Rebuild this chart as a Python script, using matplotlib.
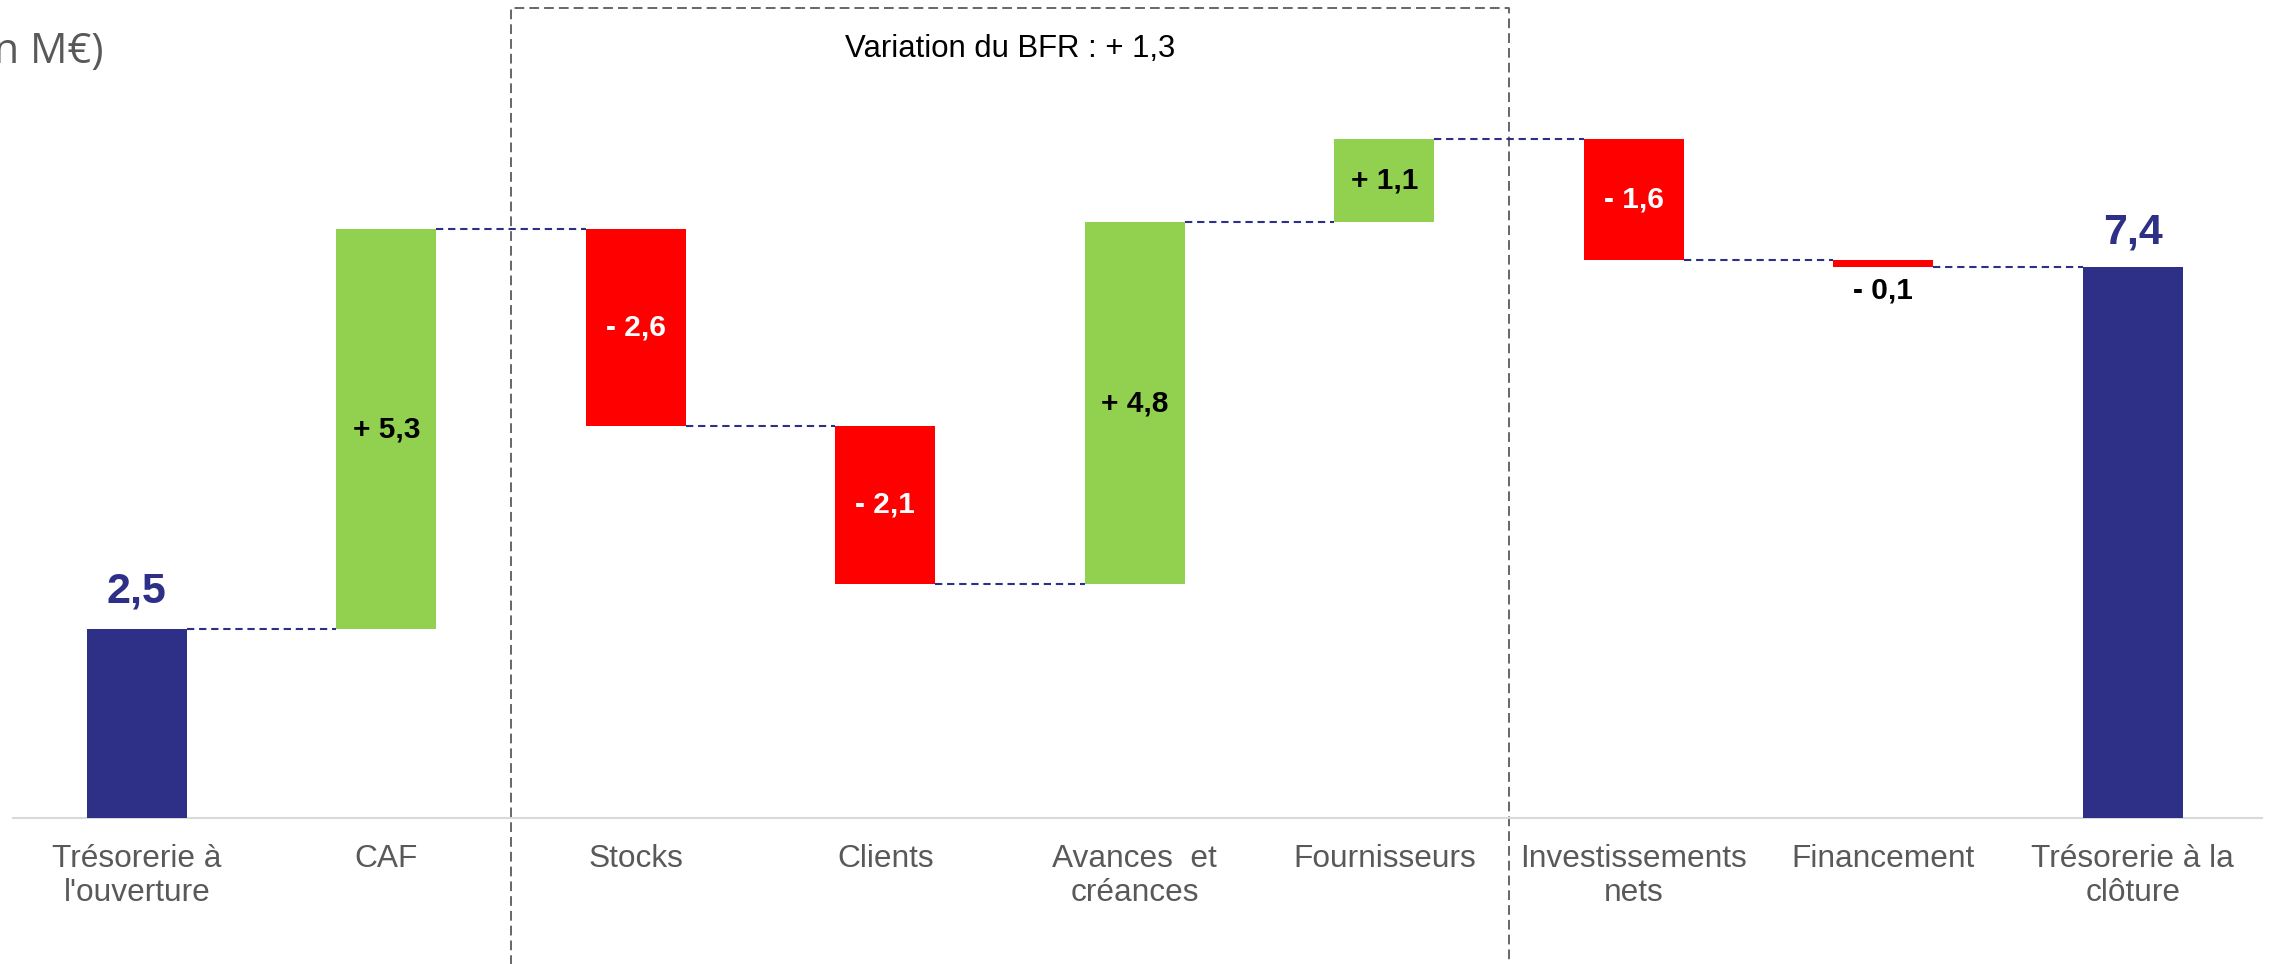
import matplotlib
matplotlib.use("Agg")
import matplotlib.pyplot as plt
import matplotlib.transforms as mtransforms

# tableau de flux de trésorerie (en M€)
categories = ["Trésorerie à\nl'ouverture", "CAF", "Stocks", "Clients",
              "Avances  et\ncréances", "Fournisseurs", "Investissements\nnets",
              "Financement", "Trésorerie à la\nclôture"]
opening = 2.5
changes = [5.3, -2.6, -2.1, 4.8, 1.1, -1.6, -0.1]
closing_shown = 7.4   # value printed on the chart (source figures are unrounded)
bfr_shown = 1.3       # "Variation du BFR" as printed
bfr_group = (2, 5)    # first / last category inside the BFR box

NAVY = "#2E3087"
GREEN = "#92D050"
RED = "#FF0000"
GREY = "#595959"


def fmt(v, signed=True):
    s = f"{abs(v):.1f}".replace(".", ",")
    if not signed:
        return s
    return ("+ " if v >= 0 else "- ") + s


plt.rcParams['font.family'] = ['Liberation Sans', 'DejaVu Sans']

fig = plt.figure(figsize=(22.69, 9.64), dpi=100)
ax = fig.add_axes([13 / 2269, 146 / 964, 2249 / 2269, 754.5 / 964])
ax.set_xlim(-0.496, 8.518)
ax.set_ylim(0, 10)

width = 0.4
n = len(categories)

# running totals
levels = [opening]
for c in changes:
    levels.append(levels[-1] + c)
closing = levels[-1]

# opening bar
ax.bar(0, opening, width=width, color=NAVY, linewidth=0, zorder=3)
ax.annotate(fmt(opening, False), (0, opening), xytext=(0, 19), textcoords="offset points",
            ha="center", va="baseline", fontsize=31, fontweight="bold", color=NAVY)

# variations
for i, c in enumerate(changes):
    x = i + 1
    bottom = min(levels[i], levels[i + 1])
    ax.bar(x, abs(c), bottom=bottom, width=width, color=GREEN if c >= 0 else RED,
           linewidth=0, zorder=3)
    if abs(c) >= 0.5:
        ax.text(x, bottom + abs(c) / 2, fmt(c), ha="center", va="center",
                fontsize=21.5, fontweight="bold", color="black" if c >= 0 else "white", zorder=4)
    else:
        ax.annotate(fmt(c), (x, bottom), xytext=(0, -6.5), textcoords="offset points",
                    ha="center", va="top", fontsize=21.5, fontweight="bold", color="black")

# closing bar
ax.bar(n - 1, closing, width=width, color=NAVY, linewidth=0, zorder=3)
ax.annotate(fmt(closing_shown, False), (n - 1, closing), xytext=(0, 17),
            textcoords="offset points", ha="center", va="baseline",
            fontsize=31, fontweight="bold", color=NAVY)

# connectors
for i, lv in enumerate(levels):
    ax.plot([i + width / 2, i + 1 - width / 2], [lv, lv], color=NAVY, lw=1.5,
            ls=(0, (3.5, 2.3)), zorder=2)

# axes styling
for s in ["left", "right", "top"]:
    ax.spines[s].set_visible(False)
ax.spines["bottom"].set_color("#D9D9D9")
ax.spines["bottom"].set_linewidth(1.5)
ax.set_yticks([])
ax.set_xticks(range(n))
ax.set_xticklabels(categories, fontsize=22.8, color=GREY, linespacing=1.2)
ax.tick_params(axis="x", length=0, pad=18.5)

# BFR dashed box
trans = mtransforms.blended_transform_factory(ax.transData, fig.transFigure)
x0, x1 = bfr_group[0] - 0.5, bfr_group[1] + 0.5
top = 1 - 8 / 964
ax.plot([x0, x0, x1, x1], [-0.02, top, top, -0.02], transform=trans, clip_on=False,
        color="#666666", lw=1.4, ls=(0, (5, 2.6)), zorder=1)
ax.text((x0 + x1) / 2, 1 - 57 / 964, "Variation du BFR : " + fmt(bfr_shown),
        transform=trans, ha="center", va="baseline", fontsize=22.4, color="black")

# unit, cut off at the left edge as in the original
fig.text(103 / 2269, 1 - 63 / 964, "(en M€)", ha="right", va="baseline",
         fontsize=30, color=GREY, family=["Open Sans", "DejaVu Sans"])

fig.savefig("out.png", dpi=100)
